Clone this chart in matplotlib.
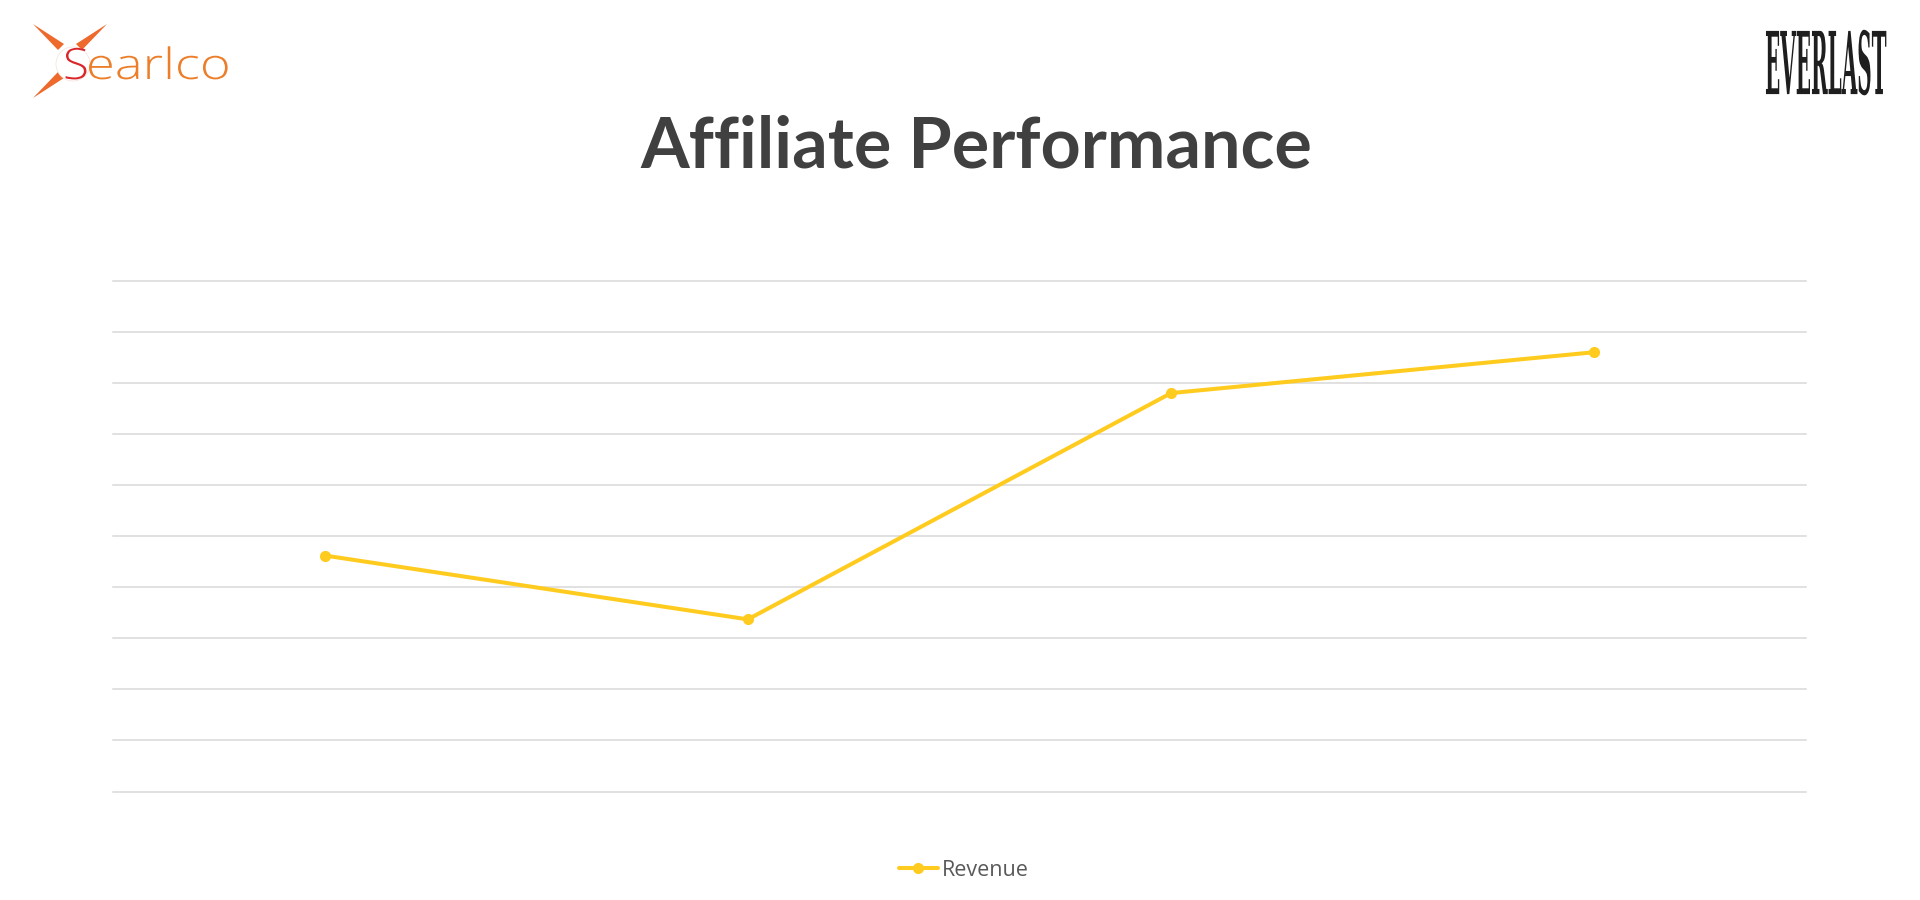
import matplotlib
matplotlib.use("Agg")
import matplotlib.pyplot as plt
from matplotlib.patches import Polygon, Circle
from matplotlib.patheffects import AbstractPathEffect
from matplotlib.transforms import Affine2D

# Chart data (the value axis has no labels, so units are grid steps)
categories = ["Q1", "Q2", "Q3", "Q4"]
revenue = [4.62, 3.37, 7.80, 8.60]
grid_values = list(range(0, 11))

TITLE = "Affiliate Performance"
SERIES_NAME = "Revenue"
LINE_COLOR = "#FFCB1F"
GRID_COLOR = "#D9D9D9"
H = 900  # figure height in px, for flipping overlay coords to display coords


# stretches a text glyph path around a point (used for the logo wordmarks)
class Stretch(AbstractPathEffect):
    def __init__(self, sx, sy, cx, cy):
        super().__init__()
        self.tr = Affine2D().translate(-cx, -cy).scale(sx, sy).translate(cx, cy)

    def draw_path(self, renderer, gc, tpath, affine, rgbFace=None):
        renderer.draw_path(gc, tpath, affine + self.tr, rgbFace)


fig = plt.figure(figsize=(19.2, 9), dpi=100)
fig.patch.set_facecolor("white")

ax = fig.add_axes([113 / 1920, 1 - 791.5 / H, (1806 - 113) / 1920, (791.5 - 280.7) / H])
x = list(range(len(categories)))
line, = ax.plot(x, revenue, color=LINE_COLOR, linewidth=2.9, marker="o",
                markersize=7, label=SERIES_NAME, solid_capstyle="round", zorder=3)
ax.set_xlim(-0.5, len(categories) - 0.5)
ax.set_ylim(grid_values[0], grid_values[-1])
ax.set_yticks(grid_values)
ax.set_xticks(x)
ax.set_xticklabels([])
ax.set_yticklabels([])
ax.tick_params(length=0)
ax.grid(axis="y", color=GRID_COLOR, linewidth=1.1, clip_on=False)
ax.set_axisbelow(True)
for s in ax.spines.values():
    s.set_visible(False)

# Title
fig.text(976 / 1920, 1 - 168 / H, TITLE, ha="center", va="baseline",
         fontsize=50.5, fontweight="bold", color="#404040", family=["Lato", "DejaVu Sans"])

# Legend
fig.legend(handles=[line], loc="center", bbox_to_anchor=(964 / 1920, 1 - 870 / H),
           frameon=False, handlelength=1.8, handletextpad=0.2,
           labelcolor="#595959", prop={"family": ["Open Sans", "DejaVu Sans"], "size": 15.5})

# Logos overlay (pixel coordinates, y downward)
ov = fig.add_axes([0, 0, 1, 1], zorder=5)
ov.set_xlim(0, 1920)
ov.set_ylim(H, 0)
ov.axis("off")
ov.patch.set_alpha(0)

# searlco spikes
spikes = [
    [(33, 24), (64, 44), (58, 50)],
    [(107, 24), (82, 50), (76, 44)],
    [(33, 98), (58, 72), (64, 78)],
]
for pts in spikes:
    ov.add_patch(Polygon(pts, closed=True, facecolor="#EE6A2C", edgecolor="none"))
ov.add_patch(Circle((73, 64), 17, facecolor="white", edgecolor="#F4E4E0", linewidth=0.6))
ov.text(63, 79, "S", fontsize=31, color="#D8262A", va="baseline", ha="left",
        family=["Open Sans", "DejaVu Sans"], fontweight="light",
        path_effects=[Stretch(1.1, 1.0, 63, H - 79)])
ov.text(86, 79, "earlco", fontsize=31, color="#EC7E2A", va="baseline", ha="left",
        family=["Open Sans", "DejaVu Sans"], fontweight="light",
        path_effects=[Stretch(1.22, 1.0, 86, H - 79)])

# everlast wordmark, stretched tall around the middle of its capitals
ev_x, ev_mid, ev_base = 1826, 62.5, 70.6
ov.text(ev_x, ev_base, "EVERLAST", fontsize=16, color="#1E1E1E", ha="center", va="baseline",
        family=["DejaVu Serif", "Liberation Serif"], fontweight="bold",
        path_effects=[Stretch(0.9, 3.9, ev_x, H - ev_mid)])

fig.savefig("out.png", dpi=100, facecolor="white")
